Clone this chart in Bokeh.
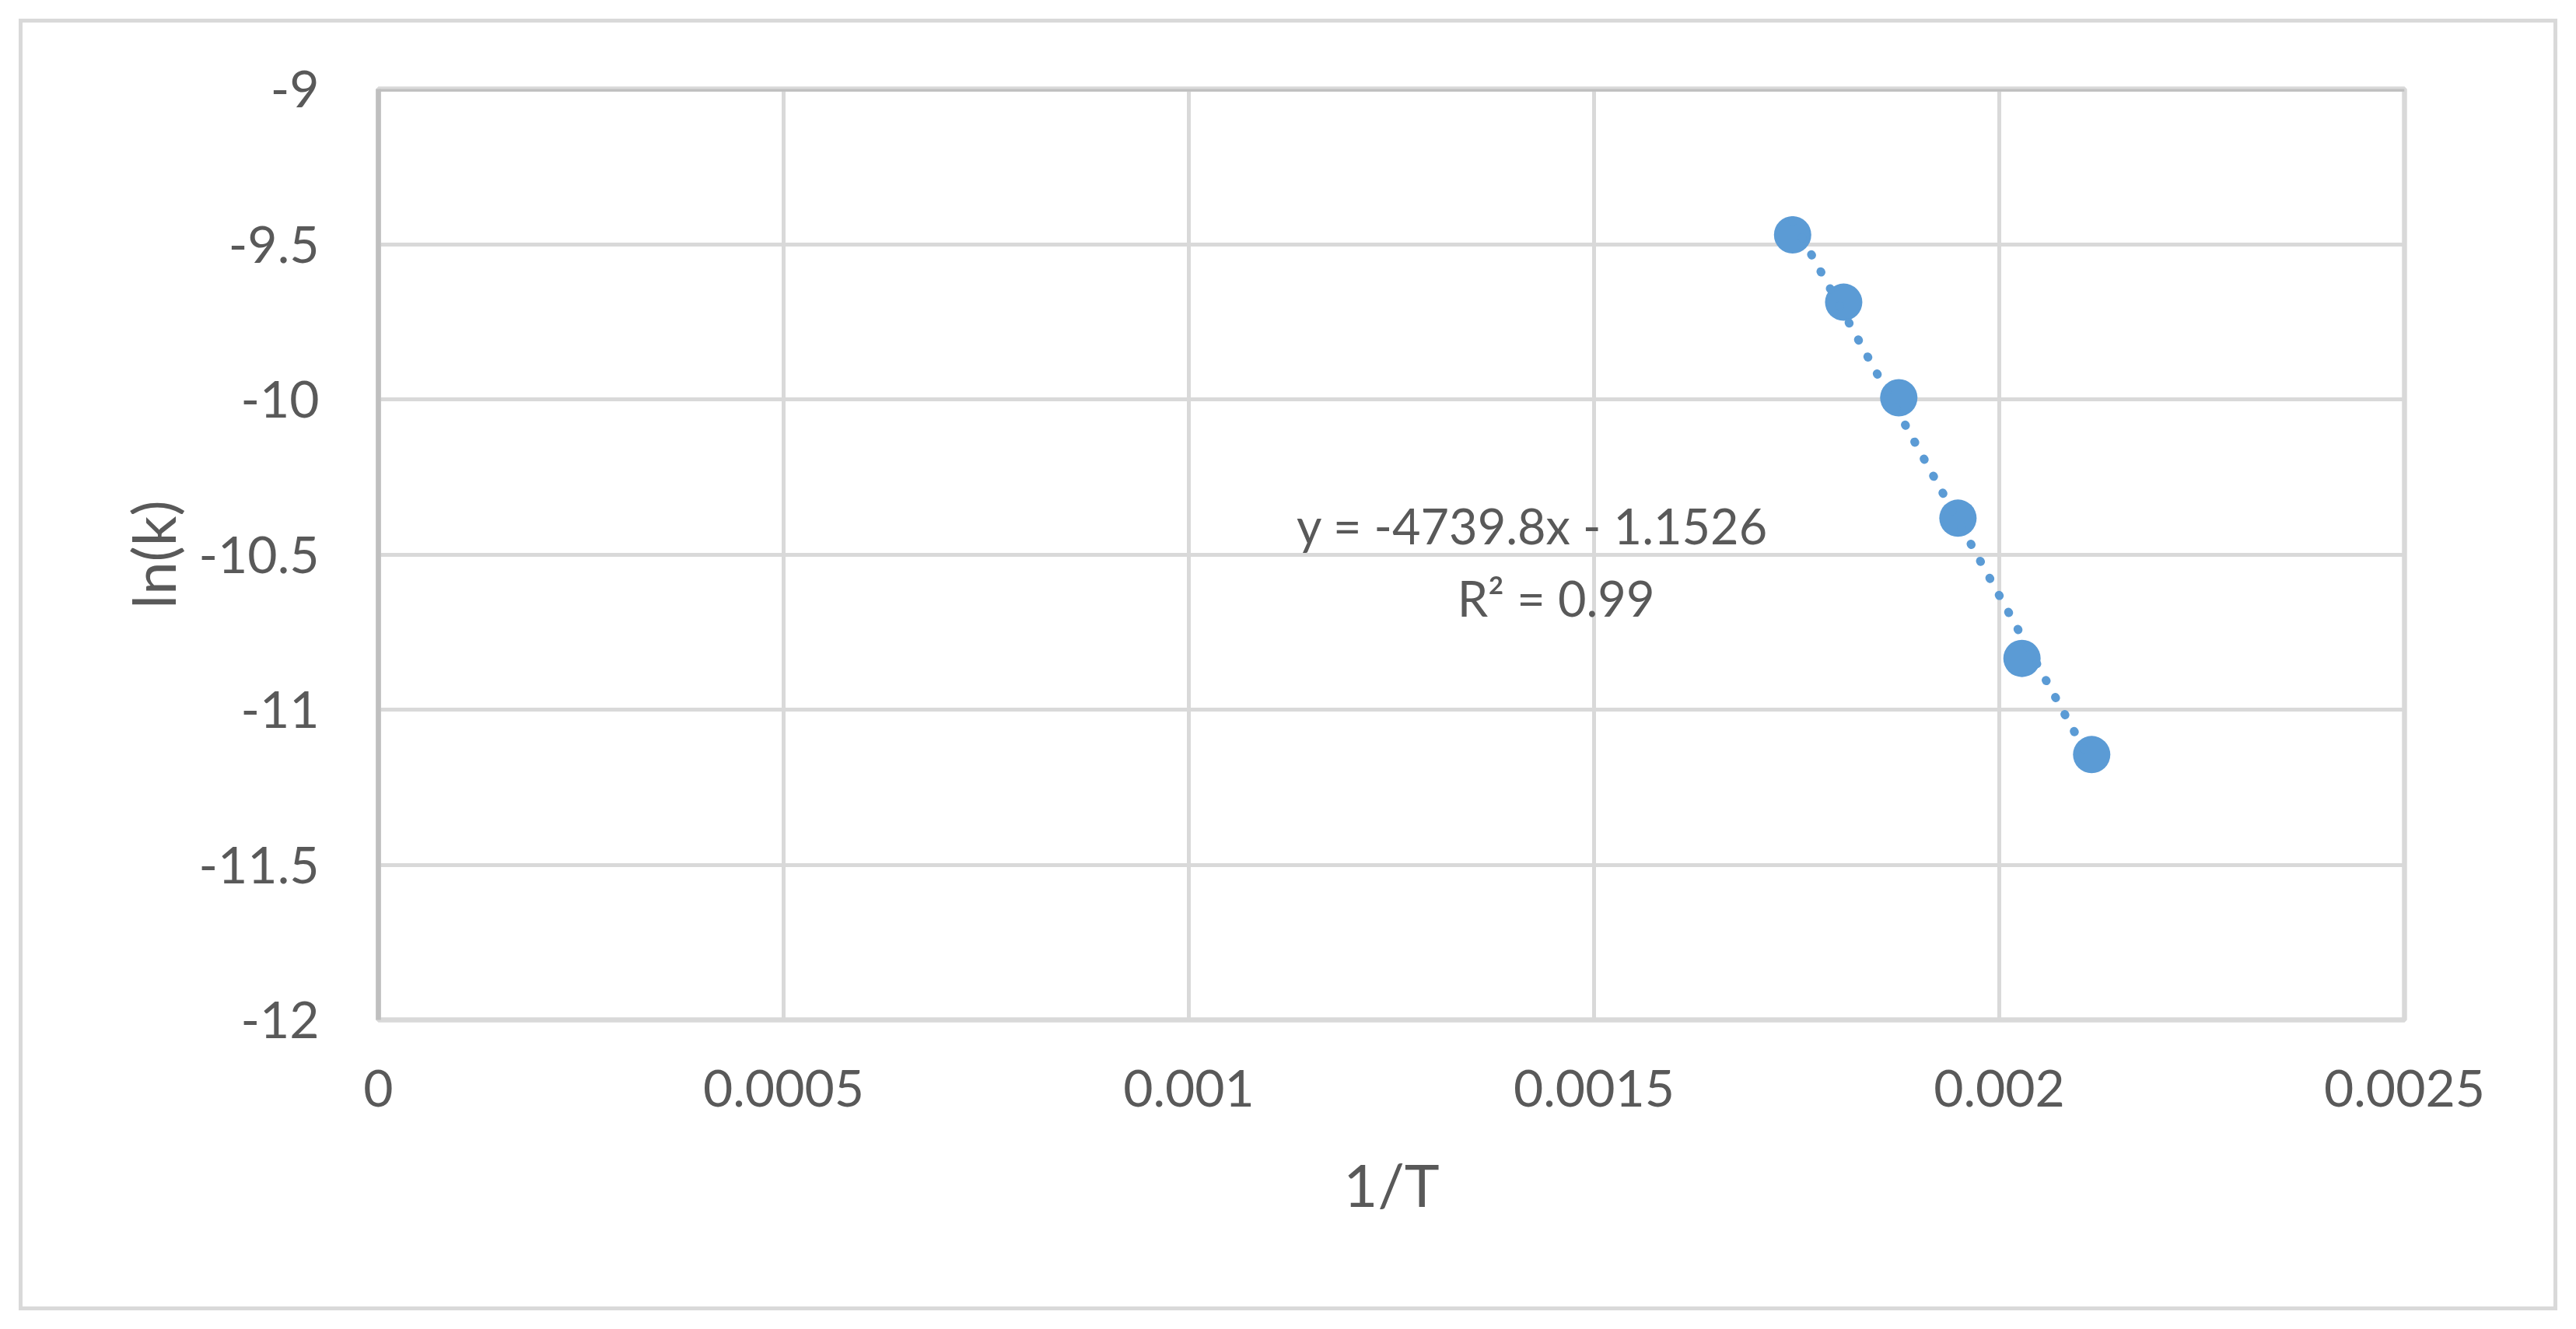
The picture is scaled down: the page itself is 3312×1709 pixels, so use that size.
from bokeh.plotting import figure
from bokeh.models import Range1d, FixedTicker, Label, Span, CustomJSTickFormatter
from bokeh.embed import file_html
from bokeh.resources import INLINE

# ---- data ----
inv_T = [0.001745, 0.001808, 0.001876, 0.001949, 0.002028, 0.002114]
ln_k = [-9.470, -9.687, -9.995, -10.383, -10.835, -11.145]

trend_slope = -4739.8
trend_intercept = -1.1526
r_squared = 0.99

x_ticks = [0, 0.0005, 0.001, 0.0015, 0.002, 0.0025]
x_tick_labels = ["0", "0.0005", "0.001", "0.0015", "0.002", "0.0025"]
y_ticks = [-12, -11.5, -11, -10.5, -10, -9.5, -9]
y_tick_labels = ["-12", "-11.5", "-11", "-10.5", "-10", "-9.5", "-9"]

x_title = "1/T"
y_title = "ln(k)"
eq_line1 = "y = %sx - %s" % (trend_slope, abs(trend_intercept))
eq_line2 = "R² = %s" % r_squared

# ---- styling ----
FONT = "Lato"
TEXT = "#595959"
BLUE = "#5b9bd5"
GRID = "#d9d9d9"

W, H = 3312, 1709
p = figure(width=W, height=H, output_backend="svg", toolbar_location=None,
           x_range=Range1d(0, 0.0025), y_range=Range1d(-12, -9),
           min_border_left=486, min_border_right=221,
           min_border_top=114, min_border_bottom=398)
p.background_fill_color = "white"
p.border_fill_alpha = 0
p.styles = {"outline": "5px solid #d9d9d9", "outline-offset": "-29px",
            "background-color": "white"}
p.outline_line_color = GRID
p.outline_line_width = 6.5

fmt_js = "const i = tvals.findIndex(t => Math.abs(t - tick) < 1e-9); return i >= 0 ? tlabs[i] : '';"
p.xaxis.ticker = FixedTicker(ticks=x_ticks)
p.xaxis.formatter = CustomJSTickFormatter(args=dict(tvals=x_ticks, tlabs=x_tick_labels), code=fmt_js)
p.yaxis.ticker = FixedTicker(ticks=y_ticks)
p.yaxis.formatter = CustomJSTickFormatter(args=dict(tvals=y_ticks, tlabs=y_tick_labels), code=fmt_js)

for ax in (p.xaxis, p.yaxis):
    ax.major_tick_line_color = None
    ax.minor_tick_line_color = None
    ax.major_label_text_font = FONT
    ax.major_label_text_font_size = "66px"
    ax.major_label_text_color = TEXT
    ax.axis_label_text_font = FONT
    ax.axis_label_text_font_size = "76px"
    ax.axis_label_text_color = TEXT
    ax.axis_label_text_font_style = "normal"

p.xaxis.axis_line_color = None
p.yaxis.axis_line_color = "#bfbfbf"
p.yaxis.axis_line_width = 6.5
p.xaxis.major_label_standoff = 58
p.yaxis.major_label_standoff = 70
p.xaxis.axis_label = x_title
p.yaxis.axis_label = y_title
p.xaxis.axis_label_standoff = 51
p.yaxis.axis_label_standoff = 11

p.xgrid.ticker = FixedTicker(ticks=x_ticks)
p.ygrid.ticker = FixedTicker(ticks=y_ticks)
p.grid.grid_line_color = GRID
p.grid.grid_line_width = 5

p.add_layout(Span(location=-9, dimension="width", line_color="#bfbfbf", line_width=6.5))

# points
p.scatter(inv_T, ln_k, size=48, marker="circle", fill_color=BLUE, line_color=None)

# linear trendline (dotted) from equation
x0, x1 = min(inv_T), max(inv_T)
p.line([x0, x1], [trend_slope * x0 + trend_intercept, trend_slope * x1 + trend_intercept],
       line_color=BLUE, line_width=11, line_dash="1 24", line_cap="round")

# equation labels
p.add_layout(Label(x=0.001424, y=-10.406, text=eq_line1, text_align="center",
                   text_baseline="alphabetic", text_font=FONT, text_font_size="63px",
                   text_color=TEXT))
p.add_layout(Label(x=0.001453, y=-10.639, text=eq_line2, text_align="center",
                   text_baseline="alphabetic", text_font=FONT, text_font_size="63px",
                   text_color=TEXT))

open("out.html", "w").write(file_html(p, INLINE))
